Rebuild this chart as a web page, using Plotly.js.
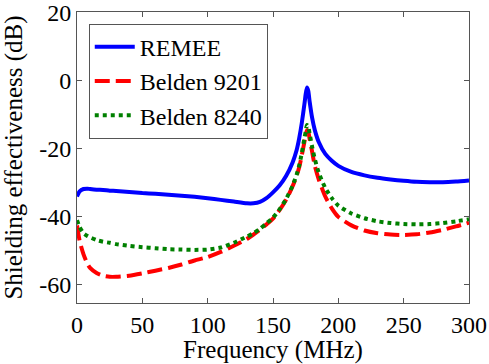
<!DOCTYPE html>
<html>
<head>
<meta charset="utf-8">
<script src="https://cdn.plot.ly/plotly-3.0.1.min.js"></script>
<style>
html,body{margin:0;padding:0;background:#fff;}
#chart{width:489px;height:364px;}
#chart svg text{font-family:'Liberation Serif',serif !important;}
#note{position:absolute;left:-3000px;top:0;font:10px monospace;}
</style>
</head>
<body>
<div id="chart"></div>
<div id="note"></div>
<script>
var freq = [0,2,5,8,10,15,20,25,30,40,50,60,70,80,90,100,110,120,130,135,140,145,150,155,160,165,168,170,172,174,175,176,177,178,180,182,185,190,195,200,210,220,230,240,250,260,270,280,290,300];
var remee = [-34,-32.5,-31.8,-31.7,-31.8,-32,-32.1,-32.3,-32.4,-32.7,-33,-33.2,-33.5,-33.8,-34.1,-34.5,-35,-35.5,-36,-36,-35.6,-34.5,-32.8,-30.8,-28,-24,-20.5,-17,-12.5,-7,-4,-2,-3,-6,-11,-14.5,-18,-21.5,-23.5,-25,-26.8,-27.8,-28.5,-29,-29.4,-29.7,-29.8,-29.8,-29.6,-29.3];
var belden9201 = [-42.5,-47,-51,-53.8,-55,-56.5,-57.3,-57.6,-57.6,-57.3,-56.6,-55.8,-55,-54,-52.8,-51.8,-50.3,-48.5,-46.5,-45.2,-43.8,-42.2,-40.5,-38,-35,-31,-28,-25.5,-22,-18,-16,-14.5,-15,-17,-21,-25,-29,-34,-37.5,-40,-42.5,-44,-44.8,-45.2,-45.3,-45.1,-44.6,-43.8,-42.8,-41.7];
var belden8240 = [-41,-43,-44.8,-45.6,-46,-46.8,-47.3,-47.6,-48,-48.5,-48.9,-49.2,-49.5,-49.6,-49.7,-49.6,-49,-47.6,-45.8,-44.8,-43.5,-41.9,-40.2,-37.8,-34.8,-30.8,-27.7,-25,-21.3,-17,-15,-13,-13.5,-15.5,-19.5,-23,-27,-31.5,-34.5,-36.7,-39,-40.4,-41.3,-41.8,-42.1,-42.2,-42.1,-41.8,-41.3,-40.7];
var seriesNames = ['REMEE','Belden 9201','Belden 8240'];
var xTicks = [0,50,100,150,200,250,300];
var yTicks = [-60,-40,-20,0,20];

function mkFont(sz){ return {family:'Liberation Serif', size:sz, color:'#000'}; }
var traces = [
  {x:freq, y:remee, name:seriesNames[0], mode:'lines', line:{color:'#0000ff', width:4, shape:'spline', smoothing:0.6}},
  {x:freq, y:belden9201, name:seriesNames[1], mode:'lines', line:{color:'#ff0000', width:4, dash:'15px,6px', shape:'spline', smoothing:0.6}},
  {x:freq, y:belden8240, name:seriesNames[2], mode:'lines', line:{color:'#008000', width:4, dash:'4px,4px', shape:'spline', smoothing:0.6}}
];
var layout = {
  width:489, height:364,
  margin:{l:77, r:20, t:12, b:61},
  font:mkFont(24),
  showlegend:true,
  legend:{x:0.03, y:0.96, bgcolor:'#fff', bordercolor:'#555', borderwidth:1, font:mkFont(24), itemwidth:40},
  xaxis:{range:[0,300], tickvals:xTicks, ticktext:xTicks.map(String), tickfont:mkFont(24),
    showgrid:false, zeroline:false, showline:true, linecolor:'#555', mirror:'ticks', ticks:'inside', ticklen:5, tickcolor:'#555',
    title:{text:'Frequency (MHz)', font:mkFont(25)}},
  yaxis:{range:[-65.3,20.2], tickvals:yTicks, ticktext:yTicks.map(String), tickfont:mkFont(24),
    showgrid:false, zeroline:false, showline:true, linecolor:'#555', mirror:'ticks', ticks:'inside', ticklen:5, tickcolor:'#555',
    title:{text:'Shielding effectiveness (dB)', font:mkFont(25)}}
};
Plotly.newPlot('chart', traces, layout, {displayModeBar:false}).then(function(){
  var e = document.querySelector('.xtitle');
  document.getElementById('note').textContent = e ? getComputedStyle(e).fontFamily : '';
});
</script>
</body>
</html>
